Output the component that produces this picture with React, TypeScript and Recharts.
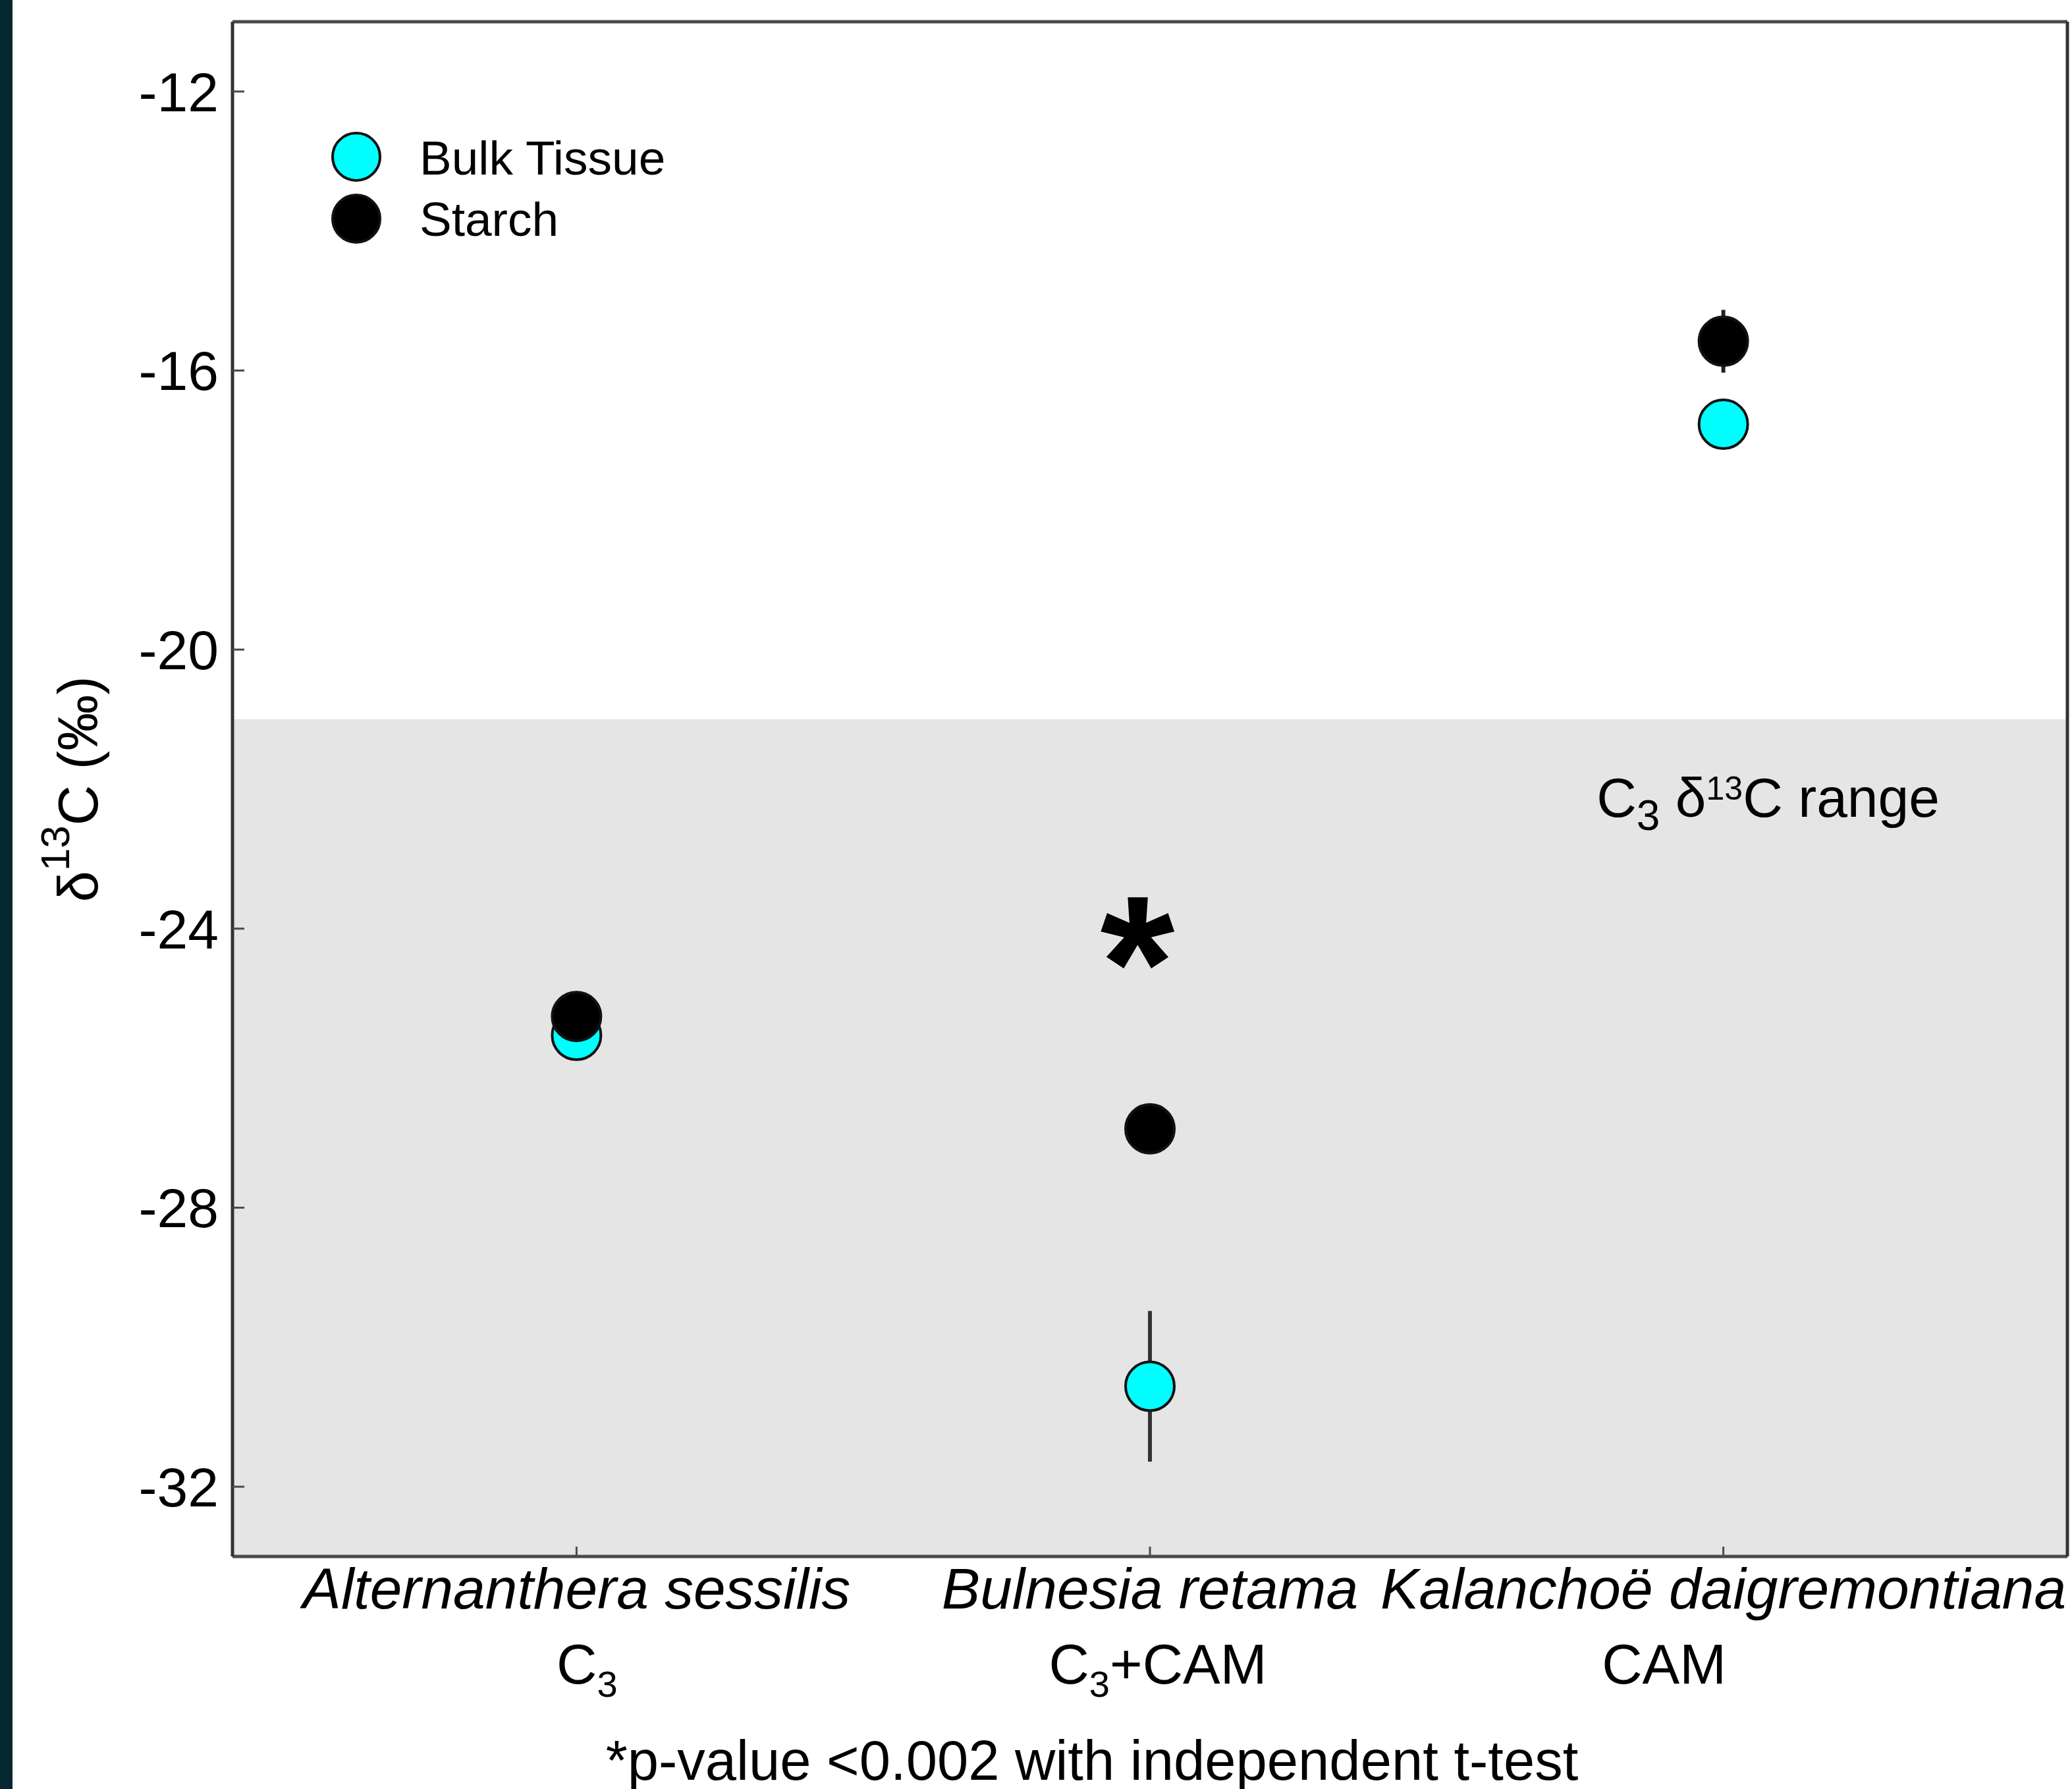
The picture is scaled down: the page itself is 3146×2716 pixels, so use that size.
import React from 'react';
import {
  ScatterChart,
  Scatter,
  XAxis,
  YAxis,
  ErrorBar,
  ReferenceArea,
  ReferenceDot,
  Legend,
} from 'recharts';

// species on the x axis (numeric positions 1..3)
const species = ['Alternanthera sessilis', 'Bulnesia retama', 'Kalanchoë daigremontiana'];
const photoTypes = ['C3', 'C3+CAM', 'CAM'];
const speciesPos = [1, 2, 3];

// δ13C (‰), mean and error
const bulkTissue = [-25.53, -30.56, -16.77];
const bulkErr = [0.2, 1.08, 0.15];
const starch = [-25.26, -26.87, -15.58];
const starchErr = [0.15, 0.2, 0.45];

const yTicks = [-32, -28, -24, -20, -16, -12];
const yDomain = [-33, -11];
const xDomain = [0.4, 3.6];
const c3Range = [-33, -21];
const sigMark = { x: 2, y: -24 };
const footnote = '*p-value <0.002 with independent t-test';

const FONT = '"Liberation Sans", Arial, Helvetica, sans-serif';
const FRAME = '#4a4a4a';
const TYPE_DX = [16, 12, -90]; // the type labels sit a bit off their ticks in the original

const bulkRows = speciesPos.map((x, i) => ({ x, y: bulkTissue[i], err: bulkErr[i] }));
const starchRows = speciesPos.map((x, i) => ({ x, y: starch[i], err: starchErr[i] }));

// "C3" -> C with subscript 3
function chem(s: string, subSize: number, subDy: number) {
  const parts = s.split(/(?<=C)3/);
  const out: React.ReactNode[] = [];
  parts.forEach((p, k) => {
    if (k > 0) {
      out.push(<tspan key={'s' + k} fontSize={subSize} dy={subDy}>3</tspan>);
      if (p) out.push(<tspan key={'r' + k} dy={-subDy}>{p}</tspan>);
    } else out.push(<tspan key={'p' + k}>{p}</tspan>);
  });
  return out;
}

const dot = (fill: string) => (p: any) => (
  <circle cx={p.cx} cy={p.cy} r={37} fill={fill} stroke="#111" strokeWidth={4} />
);

function XTick({ x, y, payload }: any) {
  const i = speciesPos.indexOf(payload.value);
  if (i < 0) return null;
  return (
    <g fontFamily={FONT} fill="#000">
      <text x={x} y={y + 79} textAnchor="middle" fontStyle="italic" fontSize={87.5}>
        {species[i]}
      </text>
      <text x={x + TYPE_DX[i]} y={y + 193} textAnchor="middle" fontSize={85}>
        {chem(photoTypes[i], 56, 20)}
      </text>
    </g>
  );
}

function YLabel({ viewBox }: any) {
  const cx = viewBox.x - 5;
  const cy = viewBox.y + viewBox.height / 2;
  return (
    <text
      x={cx}
      y={cy}
      transform={`rotate(-90 ${cx} ${cy})`}
      textAnchor="middle"
      fontFamily={FONT}
      fontSize={85}
      fill="#000"
    >
      δ<tspan fontSize={62} dy={-43}>13</tspan>
      <tspan dy={43}>C (‰)</tspan>
    </text>
  );
}

function RangeLabel({ viewBox }: any) {
  return (
    <text
      x={viewBox.x + viewBox.width - 194}
      y={viewBox.y + 148}
      textAnchor="end"
      fontFamily={FONT}
      fontSize={84}
      fill="#000"
    >
      C<tspan fontSize={64} dy={20}>3</tspan>
      <tspan dy={-20}> δ</tspan>
      <tspan fontSize={50} dy={-26}>13</tspan>
      <tspan dy={26}>C range</tspan>
    </text>
  );
}

function FootLabel({ viewBox }: any) {
  return (
    <text
      x={viewBox.x + viewBox.width / 2 - 88}
      y={viewBox.y + 339}
      textAnchor="middle"
      fontFamily={FONT}
      fontSize={85}
      fill="#000"
    >
      {footnote}
    </text>
  );
}

function LegendBox({ payload }: any) {
  return (
    <svg width={600} height={200} style={{ display: 'block' }}>
      {(payload || []).map((e: any, i: number) => (
        <g key={e.value}>
          <circle cx={51} cy={48 + i * 94} r={36} fill={e.color} stroke="#111" strokeWidth={4} />
          <text x={147} y={75 + i * 93} fontFamily={FONT} fontSize={73} fill="#000">
            {e.value}
          </text>
        </g>
      ))}
    </svg>
  );
}

export default function App() {
  return (
    <div style={{ position: 'absolute', left: 0, top: 0, width: 3146, height: 2716, background: '#fff' }}>
      <div style={{ position: 'absolute', left: 0, top: 0, width: 19, height: 2716, background: '#05272f' }} />
      <ScatterChart width={3146} height={2716} margin={{ top: 32, right: 6, bottom: 0, left: 153 }}>
        <ReferenceArea
          y1={c3Range[0]}
          y2={c3Range[1]}
          fill="#e5e5e5"
          fillOpacity={1}
          stroke="none"
          label={<RangeLabel />}
        />
        <XAxis
          dataKey="x"
          type="number"
          domain={xDomain}
          allowDataOverflow
          ticks={speciesPos}
          height={353}
          tickSize={-15}
          tickMargin={15}
          axisLine={{ stroke: FRAME, strokeWidth: 5 }}
          tickLine={{ stroke: FRAME, strokeWidth: 3 }}
          tick={<XTick />}
          interval={0}
          label={<FootLabel />}
        />
        <XAxis
          xAxisId="top"
          orientation="top"
          type="number"
          domain={xDomain}
          allowDataOverflow
          height={1}
          tick={false}
          tickLine={false}
          axisLine={{ stroke: FRAME, strokeWidth: 5 }}
        />
        <YAxis
          dataKey="y"
          type="number"
          domain={yDomain}
          allowDataOverflow
          ticks={yTicks}
          width={200}
          tickSize={-18}
          tickMargin={39}
          axisLine={{ stroke: '#333', strokeWidth: 5 }}
          tickLine={{ stroke: FRAME, strokeWidth: 3 }}
          tick={{ fill: '#000', fontSize: 84, fontFamily: FONT }}
          interval={0}
          label={<YLabel />}
        />
        <YAxis
          yAxisId="right"
          orientation="right"
          type="number"
          domain={yDomain}
          allowDataOverflow
          ticks={yTicks}
          width={1}
          tickSize={-18}
          tick={false}
          interval={0}
          axisLine={{ stroke: '#333', strokeWidth: 5 }}
          tickLine={{ stroke: FRAME, strokeWidth: 3 }}
        />
        <Legend
          layout="vertical"
          align="center"
          verticalAlign="middle"
          wrapperStyle={{ left: 490, top: 190, width: 600, height: 200 }}
          content={<LegendBox />}
        />
        <Scatter name="Bulk Tissue" data={bulkRows} fill="#00ffff" shape={dot('#00ffff')} isAnimationActive={false}>
          <ErrorBar dataKey="err" direction="y" width={0} stroke="#333" strokeWidth={6} isAnimationActive={false} />
        </Scatter>
        <Scatter name="Starch" data={starchRows} fill="#000000" shape={dot('#000000')} isAnimationActive={false}>
          <ErrorBar dataKey="err" direction="y" width={0} stroke="#222" strokeWidth={6} isAnimationActive={false} />
        </Scatter>
        <ReferenceDot
          x={sigMark.x}
          y={sigMark.y}
          r={0}
          isFront
          shape={(p: any) => (
            <text
              x={p.cx - 19}
              y={p.cy + 152}
              textAnchor="middle"
              fontFamily={FONT}
              fontWeight="bold"
              fontSize={290}
              fill="#000"
            >
              *
            </text>
          )}
        />
      </ScatterChart>
    </div>
  );
}
